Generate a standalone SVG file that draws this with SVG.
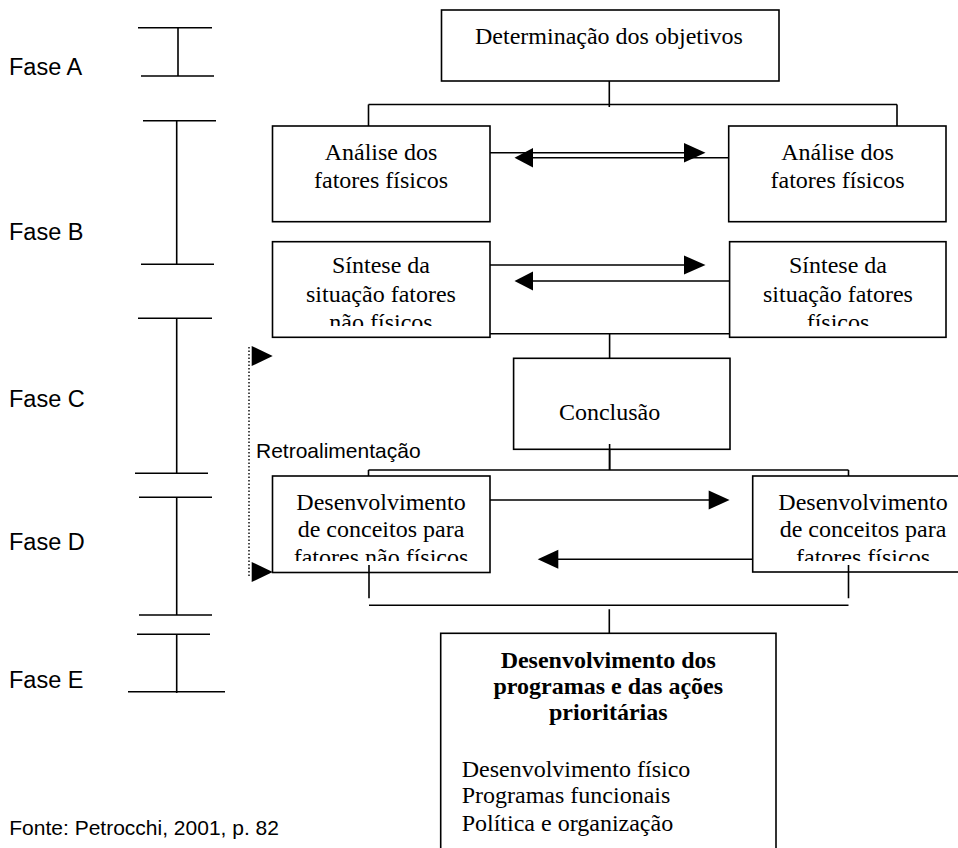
<svg xmlns="http://www.w3.org/2000/svg" width="958" height="848" viewBox="0 0 958 848">
<style>
.box{fill:#fff;stroke:#000;stroke-width:1.6}
.ln{fill:none;stroke:#000;stroke-width:1.6}
.dot{fill:none;stroke:#000;stroke-width:1.4;stroke-dasharray:1.5 2}
.ah{fill:#000;stroke:none}
.t{font-family:"Liberation Serif","Times New Roman",serif;font-size:24px;fill:#000;text-anchor:middle}
.tb{font-family:"Liberation Serif","Times New Roman",serif;font-size:24px;font-weight:bold;fill:#000;text-anchor:middle}
.tl{font-family:"Liberation Serif","Times New Roman",serif;font-size:24px;fill:#000}
.f{font-family:"Liberation Sans",Arial,sans-serif;font-size:23.5px;fill:#000}
.s{font-family:"Liberation Sans",Arial,sans-serif;font-size:21px;fill:#000}
</style>
<defs>
<clipPath id="cS"><rect x="0" y="230" width="958" height="96"/></clipPath>
<clipPath id="cD"><rect x="0" y="470" width="958" height="91"/></clipPath>
</defs>
<rect width="958" height="848" fill="#fff"/>

<g id="phases">
<g id="faseA"><text class="f" x="9" y="75">Fase A</text><path class="ln" d="M138 27.7H212M141 76H214M178 27.7V76"/></g>
<g id="faseB"><text class="f" x="9" y="240">Fase B</text><path class="ln" d="M143 120.7H216M141 264.3H214M176.7 120.7V265"/></g>
<g id="faseC"><text class="f" x="9" y="406.7">Fase C</text><path class="ln" d="M138 318.3H212M135 473.3H208M176.7 318.3V473.3"/></g>
<g id="faseD"><text class="f" x="9" y="550">Fase D</text><path class="ln" d="M139 497.3H212M139 615H212M176.7 497.3V615"/></g>
<g id="faseE"><text class="f" x="9" y="688.3">Fase E</text><path class="ln" d="M137 634.3H210M128 691.7H225M176.7 634.3V693"/></g>
</g>

<g id="connectors">
<path class="ln" d="M609.3 81V107M368.5 104.5H897M368.5 104.5V126M897 104.5V126"/>
<path class="ln" d="M490 152.7H690M728.7 157.7H525"/>
<polygon class="ah" points="684,143 684,162.4 705.5,152.7"/>
<polygon class="ah" points="533,148 533,167.4 514.5,157.7"/>
<polygon class="ah" points="359,185 378,185 368.5,205"/>
<polygon class="ah" points="840,186 858.6,186 849.3,205"/>
<path class="ln" d="M490 265H690M729.6 281H525"/>
<polygon class="ah" points="684,255.5 684,274.5 705.5,265"/>
<polygon class="ah" points="533,271.5 533,290.5 514.5,281"/>
<path class="ln" d="M490 333.7H729.6M609.6 333.7V358.3"/>
<path class="ln" d="M609.6 444V470M368.5 470H848.5M368.5 470V476M848.5 470V476"/>
<path class="ln" d="M490 500H715M753 559.3H550"/>
<polygon class="ah" points="708.7,490.5 708.7,509.5 729.6,500"/>
<polygon class="ah" points="558.3,549.8 558.3,568.8 537.7,559.3"/>
<path class="ln" d="M369 565V598.3M848.5 565V598.3M369 605.3H848.5M609.3 609.3V633.3"/>
<path class="dot" d="M249 347V576"/>
<polygon class="ah" points="251.7,346 251.7,366 272.7,356"/>
<polygon class="ah" points="251.7,562 251.7,582 272.7,572"/>
<text class="s" x="256" y="458.3">Retroalimentação</text>
</g>

<g id="objetivos">
<rect class="box" x="441.5" y="10" width="337.5" height="71"/>
<text class="t" x="609" y="43.5">Determinação dos objetivos</text>
</g>
<g id="analiseNF">
<rect class="box" x="272.5" y="126" width="217.5" height="95.7"/>
<text class="t" x="381" y="160">Análise dos</text>
<text class="t" x="381" y="188">fatores físicos</text>
</g>
<g id="analiseF">
<rect class="box" x="728.7" y="126" width="217.3" height="95.7"/>
<text class="t" x="837.5" y="160">Análise dos</text>
<text class="t" x="837.5" y="188">fatores físicos</text>
</g>
<g id="sinteseNF">
<rect class="box" x="272.5" y="241.7" width="217.5" height="95.6"/>
<g clip-path="url(#cS)">
<text class="t" x="381" y="273.3">Síntese da</text>
<text class="t" x="381" y="301.7">situação fatores</text>
<text class="t" x="381" y="330">não físicos</text>
</g>
</g>
<g id="sinteseF">
<rect class="box" x="729.6" y="241.7" width="216.4" height="95.6"/>
<g clip-path="url(#cS)">
<text class="t" x="838" y="273.3">Síntese da</text>
<text class="t" x="838" y="301.7">situação fatores</text>
<text class="t" x="838" y="330">físicos</text>
</g>
</g>
<g id="conclusao">
<rect class="box" x="513.6" y="358.3" width="216.4" height="91"/>
<text class="t" x="609.6" y="420">Conclusão</text>
</g>
<path class="ln" d="M609.6 444V470"/>
<g id="desenvNF">
<rect class="box" x="272.5" y="476" width="217.5" height="96.5"/>
<g clip-path="url(#cD)">
<text class="t" x="381" y="510">Desenvolvimento</text>
<text class="t" x="381" y="537.3">de conceitos para</text>
<text class="t" x="381" y="565">fatores não físicos</text>
</g>
</g>
<g id="desenvF">
<rect class="box" x="752.7" y="476" width="220" height="96"/>
<g clip-path="url(#cD)">
<text class="t" x="863" y="510">Desenvolvimento</text>
<text class="t" x="863" y="537.3">de conceitos para</text>
<text class="t" x="863" y="565">fatores físicos</text>
</g>
</g>
<path class="ln" d="M369 565V572.5M848.5 565V572"/>
<g id="programas">
<rect class="box" x="440.7" y="633.3" width="335.3" height="230"/>
<text class="tb" x="608.3" y="668.3">Desenvolvimento dos</text>
<text class="tb" x="608.3" y="694">programas e das ações</text>
<text class="tb" x="608.3" y="720">prioritárias</text>
<text class="tl" x="461.7" y="776.7">Desenvolvimento físico</text>
<text class="tl" x="461.7" y="803.3">Programas funcionais</text>
<text class="tl" x="461.7" y="830.7">Política e organização</text>
</g>
<text class="s" x="9.3" y="835">Fonte: Petrocchi, 2001, p. 82</text>
</svg>
